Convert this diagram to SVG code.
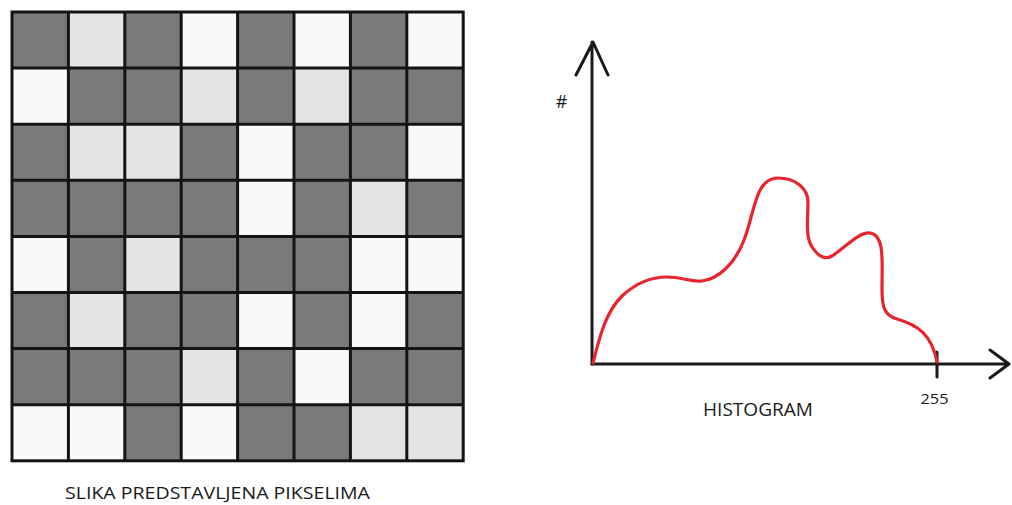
<svg xmlns="http://www.w3.org/2000/svg" width="1012" height="505" viewBox="0 0 1012 505">
<style>
.d{fill:#797a79}.l{fill:#e3e4e3}.w{fill:#f8f9fa}
.gl{stroke:#141414;stroke-width:3;fill:none}
.ax{stroke:#1a1a1a;stroke-width:3;fill:none;stroke-linecap:round;stroke-linejoin:round}
.t{font-family:"Open Sans","Liberation Sans",sans-serif;fill:#1a1a1a;font-weight:500}
</style>
<rect width="1012" height="505" fill="#ffffff"/>
<g id="grid">
<g transform="translate(12,12)">
<!-- row 0 -->
<rect class="d" x="0" y="0" width="56.4" height="56.1"/><rect class="l" x="56.4" y="0" width="56.4" height="56.1"/><rect class="d" x="112.8" y="0" width="56.4" height="56.1"/><rect class="w" x="169.2" y="0" width="56.4" height="56.1"/><rect class="d" x="225.6" y="0" width="56.4" height="56.1"/><rect class="w" x="282" y="0" width="56.4" height="56.1"/><rect class="d" x="338.4" y="0" width="56.4" height="56.1"/><rect class="w" x="394.8" y="0" width="56.4" height="56.1"/>
<!-- row 1 -->
<rect class="w" x="0" y="56.1" width="56.4" height="56.1"/><rect class="d" x="56.4" y="56.1" width="56.4" height="56.1"/><rect class="d" x="112.8" y="56.1" width="56.4" height="56.1"/><rect class="l" x="169.2" y="56.1" width="56.4" height="56.1"/><rect class="d" x="225.6" y="56.1" width="56.4" height="56.1"/><rect class="l" x="282" y="56.1" width="56.4" height="56.1"/><rect class="d" x="338.4" y="56.1" width="56.4" height="56.1"/><rect class="d" x="394.8" y="56.1" width="56.4" height="56.1"/>
<!-- row 2 -->
<rect class="d" x="0" y="112.2" width="56.4" height="56.1"/><rect class="l" x="56.4" y="112.2" width="56.4" height="56.1"/><rect class="l" x="112.8" y="112.2" width="56.4" height="56.1"/><rect class="d" x="169.2" y="112.2" width="56.4" height="56.1"/><rect class="w" x="225.6" y="112.2" width="56.4" height="56.1"/><rect class="d" x="282" y="112.2" width="56.4" height="56.1"/><rect class="d" x="338.4" y="112.2" width="56.4" height="56.1"/><rect class="w" x="394.8" y="112.2" width="56.4" height="56.1"/>
<!-- row 3 -->
<rect class="d" x="0" y="168.3" width="56.4" height="56.1"/><rect class="d" x="56.4" y="168.3" width="56.4" height="56.1"/><rect class="d" x="112.8" y="168.3" width="56.4" height="56.1"/><rect class="d" x="169.2" y="168.3" width="56.4" height="56.1"/><rect class="w" x="225.6" y="168.3" width="56.4" height="56.1"/><rect class="d" x="282" y="168.3" width="56.4" height="56.1"/><rect class="l" x="338.4" y="168.3" width="56.4" height="56.1"/><rect class="d" x="394.8" y="168.3" width="56.4" height="56.1"/>
<!-- row 4 -->
<rect class="w" x="0" y="224.4" width="56.4" height="56.1"/><rect class="d" x="56.4" y="224.4" width="56.4" height="56.1"/><rect class="l" x="112.8" y="224.4" width="56.4" height="56.1"/><rect class="d" x="169.2" y="224.4" width="56.4" height="56.1"/><rect class="d" x="225.6" y="224.4" width="56.4" height="56.1"/><rect class="d" x="282" y="224.4" width="56.4" height="56.1"/><rect class="w" x="338.4" y="224.4" width="56.4" height="56.1"/><rect class="w" x="394.8" y="224.4" width="56.4" height="56.1"/>
<!-- row 5 -->
<rect class="d" x="0" y="280.5" width="56.4" height="56.1"/><rect class="l" x="56.4" y="280.5" width="56.4" height="56.1"/><rect class="d" x="112.8" y="280.5" width="56.4" height="56.1"/><rect class="d" x="169.2" y="280.5" width="56.4" height="56.1"/><rect class="w" x="225.6" y="280.5" width="56.4" height="56.1"/><rect class="d" x="282" y="280.5" width="56.4" height="56.1"/><rect class="w" x="338.4" y="280.5" width="56.4" height="56.1"/><rect class="d" x="394.8" y="280.5" width="56.4" height="56.1"/>
<!-- row 6 -->
<rect class="d" x="0" y="336.6" width="56.4" height="56.1"/><rect class="d" x="56.4" y="336.6" width="56.4" height="56.1"/><rect class="d" x="112.8" y="336.6" width="56.4" height="56.1"/><rect class="l" x="169.2" y="336.6" width="56.4" height="56.1"/><rect class="d" x="225.6" y="336.6" width="56.4" height="56.1"/><rect class="w" x="282" y="336.6" width="56.4" height="56.1"/><rect class="d" x="338.4" y="336.6" width="56.4" height="56.1"/><rect class="d" x="394.8" y="336.6" width="56.4" height="56.1"/>
<!-- row 7 -->
<rect class="w" x="0" y="392.7" width="56.4" height="56.1"/><rect class="w" x="56.4" y="392.7" width="56.4" height="56.1"/><rect class="d" x="112.8" y="392.7" width="56.4" height="56.1"/><rect class="w" x="169.2" y="392.7" width="56.4" height="56.1"/><rect class="d" x="225.6" y="392.7" width="56.4" height="56.1"/><rect class="d" x="282" y="392.7" width="56.4" height="56.1"/><rect class="l" x="338.4" y="392.7" width="56.4" height="56.1"/><rect class="l" x="394.8" y="392.7" width="56.4" height="56.1"/>
<path class="gl" d="M56.4,0V448.8M112.8,0V448.8M169.2,0V448.8M225.6,0V448.8M282,0V448.8M338.4,0V448.8M394.8,0V448.8M0,56.1H451.2M0,112.2H451.2M0,168.3H451.2M0,224.4H451.2M0,280.5H451.2M0,336.6H451.2M0,392.7H451.2"/>
<rect class="gl" x="0" y="0" width="451.2" height="448.8"/>
</g>
<text class="t" x="217.5" y="499" font-size="17" text-anchor="middle" textLength="305" lengthAdjust="spacingAndGlyphs">SLIKA PREDSTAVLJENA PIKSELIMA</text>
</g>
<g id="histogram">
<path class="ax" d="M592,364V42M576,75L593,42L608,75"/>
<path class="ax" d="M592,364H1009M990,350L1009,364L990,378"/>
<path class="ax" d="M937,352V377"/>
<path d="M593,363 C600,335 606,312 622,296 C637,282 652,277 667,277 C682,277 690,282 702,281 C718,279 735,264 744,240 C755,212 755,178 778,178 C795,178 808,188 808,202 C808,218 805,236 812,247 C818,256 825,260 832,256 C845,248 858,232 870,233 C885,235 882,262 882,288 C882,305 883,315 897,319 C918,325 932,335 937,362" fill="none" stroke="#e8242c" stroke-width="3.2" stroke-linecap="round"/>
<text class="t" x="561.5" y="108" font-size="18" text-anchor="middle">#</text>
<text class="t" x="934.5" y="404" font-size="15" text-anchor="middle" textLength="28" lengthAdjust="spacingAndGlyphs">255</text>
<text class="t" x="758" y="416" font-size="18" text-anchor="middle" textLength="110" lengthAdjust="spacingAndGlyphs">HISTOGRAM</text>
</g>
</svg>
